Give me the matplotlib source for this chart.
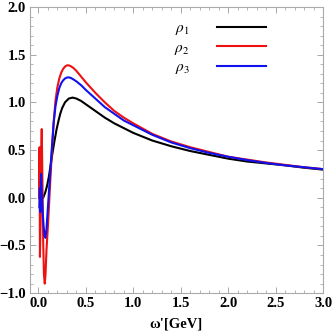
import matplotlib
matplotlib.use("Agg")
import matplotlib.pyplot as plt
from matplotlib.ticker import MultipleLocator

# --- data ---
x_black = [0.05, 0.07, 0.09, 0.11, 0.13, 0.15, 0.17, 0.19, 0.21, 0.23, 0.25, 0.28, 0.32, 0.36,
           0.40, 0.45, 0.50, 0.60, 0.70, 0.80, 0.90, 1.00, 1.20, 1.40, 1.60, 1.80, 2.00, 2.20,
           2.40, 2.60, 2.80, 3.00]
y_black = [0.00, 0.05, 0.12, 0.22, 0.35, 0.48, 0.60, 0.71, 0.80, 0.88, 0.94, 1.00, 1.04, 1.05,
           1.04, 1.015, 0.98, 0.91, 0.84, 0.78, 0.73, 0.68, 0.60, 0.54, 0.49, 0.45, 0.41, 0.38,
           0.36, 0.34, 0.315, 0.295]

x_red = [0.008, 0.012, 0.016, 0.022, 0.030, 0.035, 0.042, 0.050, 0.058, 0.067, 0.075, 0.085,
         0.10, 0.12, 0.14, 0.16, 0.18, 0.20, 0.22, 0.24, 0.26, 0.28, 0.30, 0.32, 0.34, 0.37,
         0.40, 0.45, 0.50, 0.60, 0.70, 0.80, 0.90, 1.00, 1.20, 1.40, 1.60, 1.80, 2.00, 2.20,
         2.40, 2.60, 2.80, 3.00]
y_red = [0.00, 0.53, -0.62, -0.30, 0.50, 0.72, 0.20, -0.45, -0.80, -0.90, -0.80, -0.55,
         -0.30, 0.08, 0.45, 0.78, 1.02, 1.16, 1.25, 1.31, 1.350, 1.375, 1.388, 1.388, 1.380, 1.36,
         1.33, 1.27, 1.21, 1.10, 1.00, 0.91, 0.84, 0.78, 0.67, 0.59, 0.53, 0.48, 0.43, 0.40,
         0.37, 0.345, 0.32, 0.30]

x_blue = [0.010, 0.015, 0.020, 0.028, 0.035, 0.045, 0.055, 0.065, 0.074, 0.085, 0.10, 0.12,
          0.14, 0.16, 0.18, 0.20, 0.22, 0.24, 0.26, 0.28, 0.30, 0.32, 0.34, 0.37, 0.40, 0.45,
          0.50, 0.60, 0.70, 0.80, 0.90, 1.00, 1.20, 1.40, 1.60, 1.80, 2.00, 2.20, 2.40, 2.60,
          2.80, 3.00]
y_blue = [-0.10, 0.10, -0.15, 0.25, 0.05, -0.15, -0.30, -0.40, -0.42, -0.33, -0.10, 0.20,
          0.50, 0.78, 0.96, 1.07, 1.15, 1.20, 1.230, 1.250, 1.260, 1.262, 1.257, 1.24, 1.22, 1.18,
          1.13, 1.04, 0.95, 0.88, 0.81, 0.76, 0.66, 0.58, 0.52, 0.47, 0.43, 0.395, 0.365, 0.34,
          0.32, 0.30]

labels = [r"$\rho_1$", r"$\rho_2$", r"$\rho_3$"]
colors = ["black", "#ee1111", "#1111ee"]

plt.rcParams['font.family'] = ['Liberation Serif', 'DejaVu Serif']
plt.rcParams['mathtext.fontset'] = 'stix'

fig = plt.figure(figsize=(3.32, 3.32), dpi=100)
ax = fig.add_axes([0.090, 0.117, 0.883, 0.862])

for xs, ys, c, lab in zip([x_black, x_red, x_blue], [y_black, y_red, y_blue], colors, labels):
    ax.plot(xs, ys, color=c, lw=1.5, label=lab, solid_joinstyle='round')

ax.set_xlim(-0.09, 3.0)
ax.set_ylim(-1.0, 2.0)
ax.xaxis.set_major_locator(MultipleLocator(0.5))
ax.xaxis.set_minor_locator(MultipleLocator(0.1))
ax.yaxis.set_major_locator(MultipleLocator(0.5))
ax.yaxis.set_minor_locator(MultipleLocator(0.1))
ax.tick_params(which='both', direction='in', top=True, right=True, color='#999999')
ax.tick_params(which='major', length=4, width=0.6)
ax.tick_params(which='minor', length=2, width=0.5)
ax.tick_params(axis='both', labelsize=10.5, pad=3)
ax.set_xticklabels([f"{v:.1f}" for v in ax.get_xticks()], fontweight='bold')
ax.set_yticklabels([f"{v:.1f}".replace('-', '\u2212') for v in ax.get_yticks()], fontweight='bold')
for s in ax.spines.values():
    s.set_color('#aaaaaa')
    s.set_linewidth(0.8)

ax.set_xlabel("\u03c9'[GeV]", fontsize=10.5, fontweight='bold', labelpad=5)

leg = ax.legend(loc='upper right', bbox_to_anchor=(0.852, 0.997), frameon=False,
                fontsize=11, markerfirst=False, handlelength=3.2, handletextpad=1.8,
                labelspacing=0.25)

fig.savefig("out.png", dpi=100)
